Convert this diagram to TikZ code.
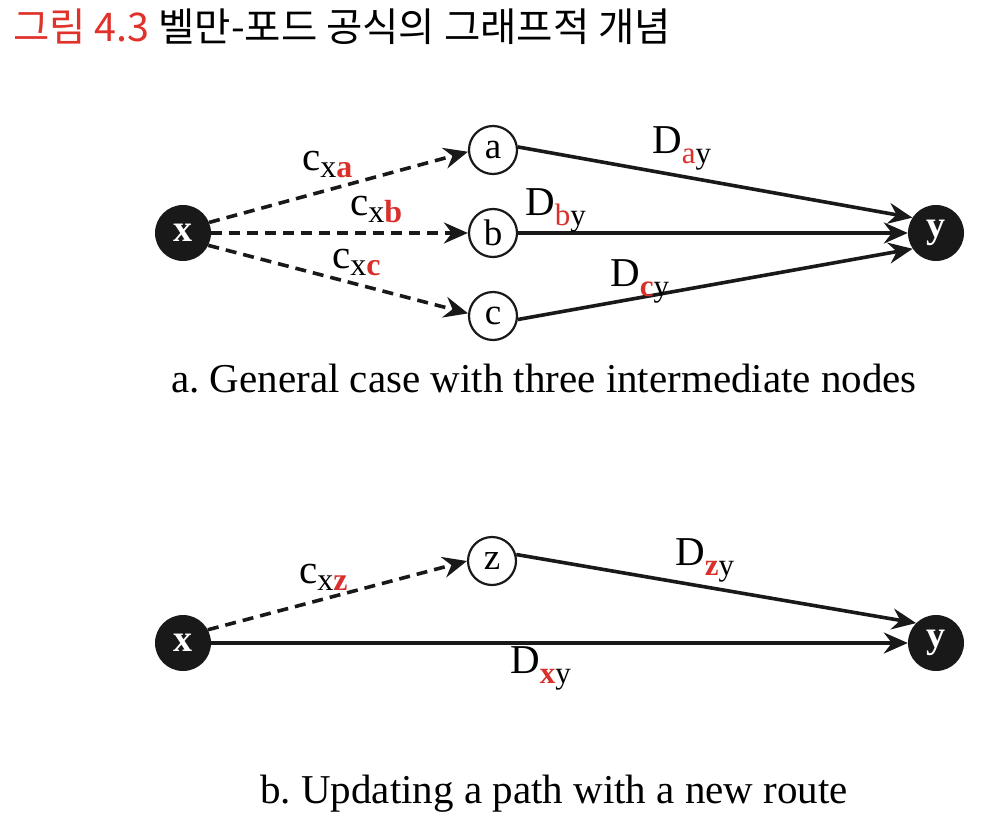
\documentclass[tikz,border=0pt]{standalone}
\usepackage{fontspec}
\setmainfont{Liberation Serif}
\newfontfamily\kor{Noto Sans CJK KR}
\usetikzlibrary{arrows.meta}
\definecolor{fred}{HTML}{E0312B}
\definecolor{lred}{HTML}{D9302C}
\newcommand\clab[2]{c\raisebox{-7pt}{\fontsize{32}{32}\selectfont x{\color{lred}\textbf{#1}}}}
\newcommand\dlab[1]{D\raisebox{-10pt}{\fontsize{31}{31}\selectfont{\color{lred}#1}y}}
\frenchspacing
\begin{document}
\begin{tikzpicture}[x=1pt,y=-1pt,
  >={Stealth[length=24pt,width=21pt,inset=8pt]},
  blk/.style={circle,fill=black!90,inner sep=0pt,minimum size=56pt,text=white,font=\fontsize{38}{38}\selectfont\bfseries},
  wht/.style={circle,draw=black!90,line width=2.2pt,inner sep=0pt,minimum size=48pt,font=\fontsize{37}{37}\selectfont},
  solidedge/.style={->,line width=3.6pt,draw=black!90},
  dashedge/.style={->,line width=3.6pt,draw=black!90,dash pattern=on 11pt off 7pt},
  lbl/.style={font=\fontsize{41}{41}\selectfont,inner sep=0pt,anchor=base west},
  captxt/.style={font=\fontsize{41}{41}\selectfont,inner sep=0pt,anchor=base}]
\useasboundingbox (0,0) rectangle (995,819);
\node[anchor=west,inner sep=0pt,font=\kor\fontsize{39.5}{39.5}\selectfont] (title) at (13,27) {{\color{fred}그림 4.3} 벨만-포드 공식의 그래프적 개념};
% part a
\node[blk] (x1) at (183,233) {x};
\node[wht] (a) at (493,150) {a};
\node[wht] (b) at (493,233) {b};
\node[wht] (c) at (493,316) {c};
\node[blk] (y1) at (936,233) {y};
\draw[dashedge] (x1.22) -- (a.184);
\draw[dashedge] (x1.east) -- (b.west);
\draw[dashedge] (x1.-26) -- (c.174);
\draw[solidedge] (a.7) -- (y1.147);
\draw[solidedge] (b.east) -- (y1.west);
\draw[solidedge] (c.-8) -- (y1.214);
\node[lbl] (lxa) at (302,170) {\clab{a}{}};
\node[lbl] (lxb) at (350,215) {\clab{b}{}};
\node[lbl] (lxc) at (332,268) {\clab{c}{}};
\node[lbl] (lay) at (652,153) {\dlab{a}};
\node[lbl] (lby) at (525,215) {\dlab{b}};
\node[lbl] (lcy) at (610,286) {\dlab{\textbf{c}}};
\node[captxt] (capa) at (544,392) {a. General case with three intermediate nodes};
% part b
\node[blk] (x2) at (183,643) {x};
\node[wht] (z) at (492,561) {z};
\node[blk] (y2) at (936,643) {y};
\draw[dashedge] (x2.28) -- (z.west);
\draw[solidedge] (z.15) -- (y2.135);
\draw[solidedge] (x2.east) -- (y2.west);
\node[lbl] (lxz) at (299,583) {\clab{z}{}};
\node[lbl] (lzy) at (675,565) {\dlab{\textbf{z}}};
\node[lbl] (lxy) at (510,673) {\dlab{\textbf{x}}};
\node[captxt] (capb) at (554,803) {b. Updating a path with a new route};
\end{tikzpicture}
\end{document}
